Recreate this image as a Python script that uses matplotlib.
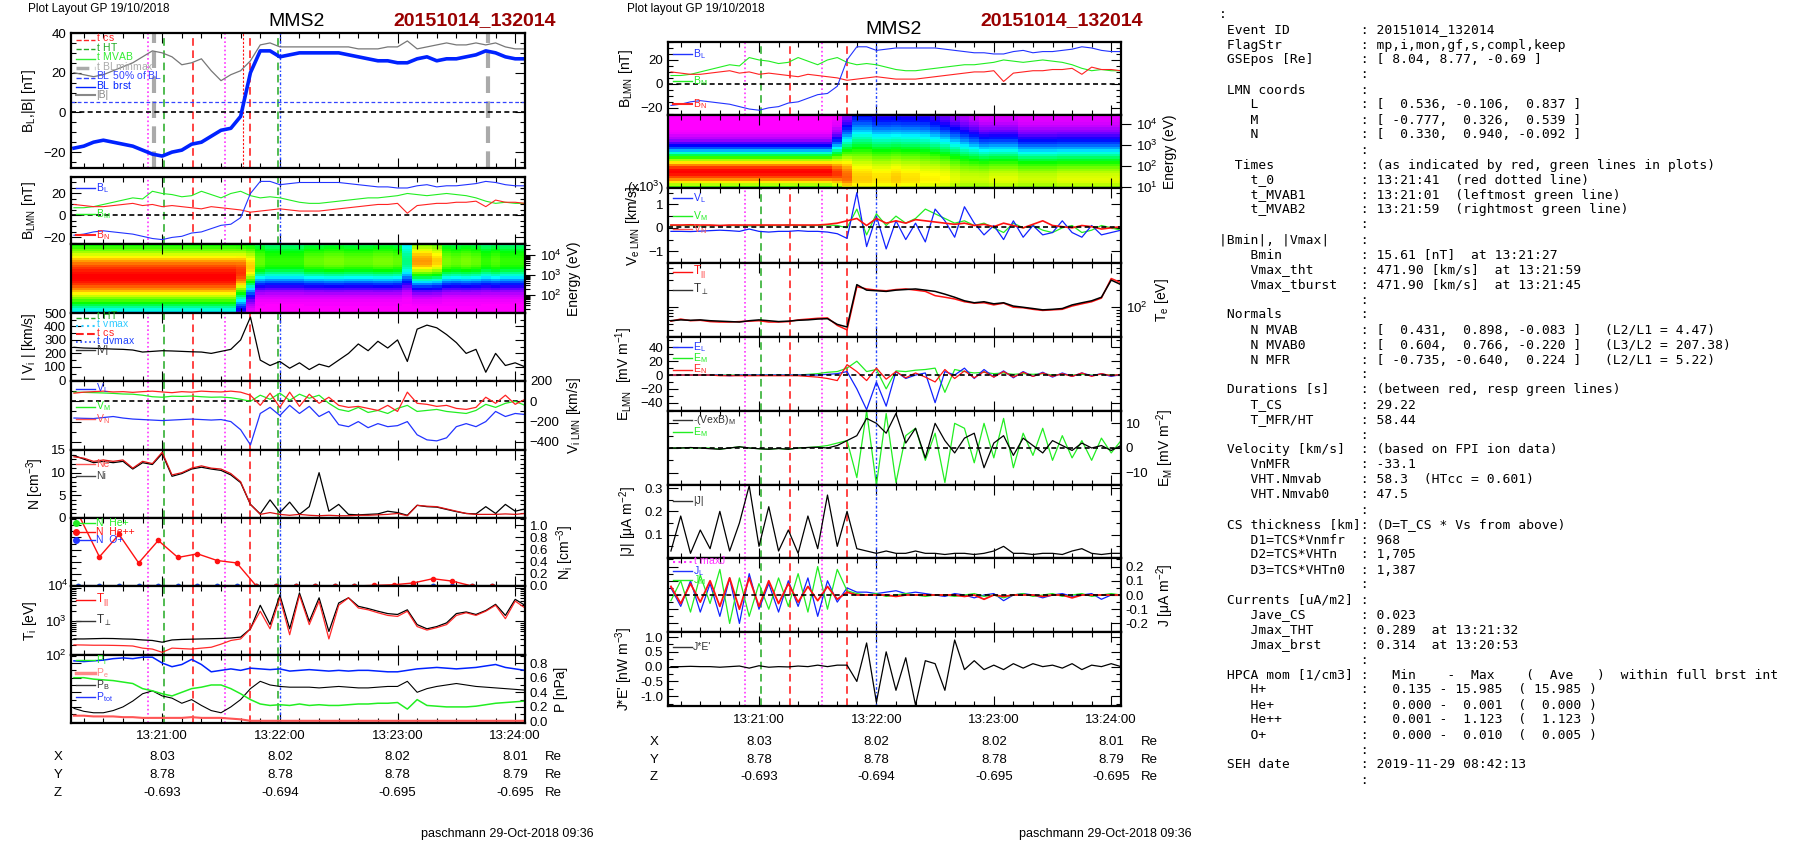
import numpy as np
import matplotlib
matplotlib.use("Agg")
import matplotlib.pyplot as plt
from matplotlib.colors import LinearSegmentedColormap
from matplotlib.ticker import MultipleLocator, NullFormatter, FixedLocator

plt.rcParams['font.family'] = ['Liberation Sans', 'DejaVu Sans']
plt.rcParams['mathtext.fontset'] = 'custom'
plt.rcParams['mathtext.rm'] = 'Liberation Sans'
plt.rcParams['mathtext.it'] = 'Liberation Sans'

W, H = 1804, 841
# ---------------- data (time in s after 13:20:00, 5 s cadence) ----------------
t = np.arange(15, 246, 5)
BL = [-18,-17,-15,-14,-15,-16,-17,-19,-21,-22, -20,-19,-16,-15,-12,-9,-8,-2,20,31,
      31,28,29,30,30,30,30,30,29,28, 27,26,26,25,25,27,28,26,27,27, 28,29,31,30,28,27,27]
Btot = [20,19,18,19,21,23,25,28,31,30, 28,24,25,27,21,16,19,21,26,34,
        35,33,33,33,33,33,33,33,33,32, 32,32,33,33,36,32,33,34,35,34, 34,35,34,35,33,32,32]
BM = [7,7,8,10,12,14,16,15,22,20, 19,17,18,22,19,16,20,22,18,16,
      17,16,14,12,11,11,12,13,14,15, 16,16,17,18,20,19,18,19,20,19, 18,16,13,11,12,11,11]
BN = [10,9,8,8,9,10,11,9,10,8, 9,8,7,6,8,7,6,5,3,4,
      5,6,5,4,4,4,5,6,7,8, 9,10,10,11,2,9,10,11,11,12, 12,13,8,14,12,12,11]
Vi = [245,240,238,235,232,230,225,210,215,220, 218,215,212,210,200,215,230,300,470,150,
      110,140,90,130,80,120,100,150,200,270, 220,290,240,300,140,380,410,390,340,280, 200,230,60,200,110,130,100]
ViL = [-165,-168,-170,-160,-150,-165,-175,-180,-185,-190, -185,-180,-175,-180,-185,-180,-200,-280,-430,-120,
       -60,-140,-40,-120,-50,-150,-100,-230,-250,-200, -260,-220,-250,-240,-200,-330,-380,-390,-360,-250,
       -220,-250,-200,-100,-150,-120,-130]
ViM = [90,88,85,82,78,72,70,60,45,40, 50,48,52,45,40,42,35,20,0,60,
       20,80,10,70,30,60,-20,-80,-100,-60, -110,-90,-120,-70,-40,-100,-90,-80,-100,-110, -120,-90,-30,-60,-20,0,-40]
ViN = [80,90,95,100,92,95,88,95,100,92, 85,95,90,100,95,92,100,90,60,-40,
       80,-60,90,-50,70,-20,40,-40,-60,-50, -70,-90,-40,-100,90,-20,-30,-50,-40,-70, -80,-60,40,-20,60,-30,20]
Ne = [13.5,13.2,12.5,12.8,12.5,12.8,11.0,12.5,12.0,14.5, 9.5,10.0,11.0,11.5,11.0,10.8,9.8,8.0,3.0,0.8,
      1.2,0.8,0.6,0.8,0.6,0.5,0.6,0.5,0.5,0.6, 0.6,0.7,0.8,1.0,0.5,2.8,2.6,2.5,2.0,1.5, 1.0,0.8,0.8,0.8,0.9,0.8,1.0]
Ni = [13.8,13.0,12.2,12.5,12.2,12.5,10.8,12.2,11.8,14.2, 9.2,9.8,10.8,11.2,10.8,10.5,9.5,7.8,3.0,0.9,
      4.0,1.2,3.5,0.8,2.5,10.0,1.5,3.0,0.8,0.7, 0.8,0.9,1.5,1.2,0.6,2.8,2.5,2.4,1.9,1.4, 1.0,0.9,2.5,1.0,3.0,1.5,2.0]
t_hpca = [17,28,38,48,58,68,78,88,98,108,118,128,138,148,158,168,178,188,198,208,218,228]
N_hepp = [1.2,0.48,0.85,0.38,0.75,0.47,0.53,0.42,0.38,0.0,0.0,0.0,0.0,0.0,0.0,0.01,0.02,0.05,0.12,0.08,0.0,0.0]
N_hep = [0.004]*22
N_op = [0.006,0.005,0.004,0.005,0.006,0.004,0.005,0.005,0.004,0.005,0.004,0.005,0.004,0.005,0.004,0.005,0.004,0.005,0.004,0.005,0.004,0.005]
Tpar = [200,198,195,195,193,190,185,160,150,120, 160,155,150,160,170,210,270,300,600,2000,
        600,5000,400,6000,800,4000,300,3000,5000,2500, 2200,1800,1500,1400,2000,700,550,650,800,1500,
        1800,1500,2000,3000,1200,4000,2500]
Tperp = [300,300,305,310,308,300,295,280,270,240, 280,290,295,300,305,310,320,340,600,3000,
         800,6000,600,7000,1000,5000,500,3500,5000,2800, 2400,2000,1700,1600,2200,800,600,700,900,1700,
         1900,1600,2100,3200,1500,4500,3000]
Ptot = [0.83,0.82,0.83,0.84,0.86,0.87,0.86,0.88,0.88,0.80, 0.75,0.78,0.85,0.78,0.68,0.70,0.72,0.70,0.73,0.72,
        0.71,0.72,0.69,0.70,0.71,0.70,0.69,0.70,0.69,0.70, 0.70,0.69,0.68,0.68,0.70,0.72,0.73,0.74,0.73,0.72,
        0.73,0.74,0.76,0.78,0.74,0.72,0.70]
Pi = [0.60,0.60,0.58,0.57,0.56,0.54,0.52,0.45,0.42,0.38, 0.35,0.40,0.45,0.47,0.50,0.50,0.45,0.38,0.30,0.24,
      0.22,0.23,0.22,0.24,0.22,0.23,0.22,0.22,0.23,0.24, 0.24,0.25,0.25,0.26,0.17,0.30,0.22,0.21,0.20,0.20,
      0.20,0.21,0.23,0.25,0.26,0.27,0.28]
Pb = [0.18,0.14,0.12,0.12,0.15,0.20,0.28,0.38,0.42,0.35, 0.32,0.25,0.30,0.22,0.15,0.12,0.20,0.30,0.45,0.55,
      0.50,0.48,0.47,0.47,0.47,0.46,0.47,0.48,0.47,0.46, 0.46,0.47,0.48,0.48,0.55,0.40,0.45,0.48,0.50,0.52,
      0.50,0.48,0.47,0.46,0.45,0.44,0.43]
Pe = [0.08,0.08,0.07,0.07,0.07,0.06,0.06,0.05,0.05,0.05, 0.05,0.05,0.06,0.05,0.05,0.05,0.04,0.03,0.01,0.01,
      0.01,0.01,0.01,0.01,0.01,0.01,0.01,0.01,0.01,0.01, 0.01,0.01,0.01,0.01,0.01,0.01,0.01,0.01,0.01,0.01,
      0.01,0.01,0.01,0.01,0.01,0.01,0.01]
# ion spectrogram: peak log-energy, amplitude, upper/lower widths per time
ion_pk = [2.9]*17 + [3.1,3.4,3.7] + [3.7]*27
ion_amp = [1.0]*17 + [0.95,0.8,0.6, 0.55,0.55,0.55,0.55,0.6,0.6,0.62,0.62,0.6,0.6,
                      0.6,0.62,0.62,0.6,0.4,0.85,0.85,0.8,0.62,0.6, 0.62,0.6,0.55,0.58,0.55,0.55,0.55]
ion_wup = [2.0]*17 + [1.8,1.6,1.5] + [1.5]*27
ion_wdn = [1.6]*17 + [1.3,1.1,1.0] + [1.0]*27
# electron spectrogram
ele_pk = [1.7]*17 + [1.6,1.4,1.3] + [1.3]*27
ele_amp = [1.0]*17 + [0.95,0.9,0.8, 0.8,0.78,0.78,0.8,0.78,0.78,0.76,0.76,0.75,0.72,
                      0.7,0.7,0.7,0.72,0.72,0.72,0.7,0.7,0.7,0.7, 0.72,0.72,0.72,0.72,0.72,0.72,0.72]
ele_wup = [0.9]*17 + [1.2,1.8,2.3] + [2.3,2.2,2.2,2.2,2.2,2.2,2.2,2.1,2.0,1.9, 1.8,1.7,1.6,1.6,1.6,1.6,1.5,1.5,1.5,1.5,
                                      1.5,1.5,1.5,1.5,1.5,1.5,1.5]
ele_wdn = [1.0]*47
# electron moments (middle column)
VeL = [-0.15,-0.15,-0.16,-0.14,-0.12,-0.10,-0.12,-0.15,-0.05,-0.15, -0.18,-0.15,-0.15,-0.12,-0.15,-0.15,-0.18,-0.25,-0.45,1.5,
       -0.8,0.5,-0.9,0.3,-0.5,0.2,-0.6,0.8,0.3,-0.4, 0.9,0.2,-0.3,0.1,-0.5,0.3,-0.4,0.1,-0.3,-0.2, 0.3,-0.2,-0.4,0.1,-0.3,-0.2,-0.1]
VeM = [0.1,0.1,0.1,0.08,0.1,0.1,0.1,0.1,0.08,0.1, 0.1,0.1,0.12,0.1,0.1,0.1,0.12,0.1,0.0,0.8,
       -0.3,0.6,0.1,0.5,0.2,0.4,0.8,0.6,0.4,0.2, 0.3,0.1,0.2,0.0,-0.2,0.2,0.0,0.1,-0.1,-0.2, 0.0,0.1,-0.2,-0.1,0.1,0.0,-0.1]
VeN = [0.12,0.12,0.13,0.12,0.12,0.1,0.12,0.12,0.12,0.12, 0.12,0.12,0.12,0.12,0.12,0.12,0.15,0.2,0.3,0.4,
       0.1,0.4,0.2,0.3,0.2,0.35,0.3,0.25,0.2,0.15, 0.2,0.1,0.15,0.05,0.2,0.1,0.0,0.15,0.3,0.1, 0.05,0.0,0.1,0.05,-0.05,0.0,0.05]
Te_perp = [58,60,59,60,58,57,56,55,58,60, 58,56,57,59,60,62,63,50,45,250,
           200,195,190,200,205,210,200,190,170,150, 130,120,125,115,120,105,100,95,90,92, 95,110,120,130,150,300,250]
Te_par = [57,62,58,59,56,55,55,56,57,58, 55,55,56,60,62,64,65,48,40,230,
          210,200,195,205,210,200,190,160,150,140, 125,118,120,110,118,100,98,92,88,90, 92,105,115,125,145,320,270]
EL = [0,0,0,0,0,0,-1,0,0,0, 0,0,0,0,0,0,1,2,5,-20, -50,-10,-45,5,-5,0,3,-40,5,0,
      10,-5,8,-3,6,-4,5,-2,4,-3, 3,-2,3,-1,2,-2,1]
EMc = [0,0,0,0,0,0,0,0,0,0, 0,0,0,0,1,2,4,5,10,20, 5,8,-20,6,5,7,8,10,-25,8,
       5,3,4,2,3,1,2,1,2,0, 1,0,1,0,1,0,0]
EN = [0,0,0,0,0,-1,-1,-1,-1,-1, -1,-1,-1,-1,-2,-3,-5,-8,15,5, -8,10,-6,5,-4,3,-3,-10,8,-5,
      6,-4,5,-3,5,-3,4,-2,3,-2, 2,-2,3,-2,2,-1,1]
VexB_M = [0,0,0.2,0,-0.3,-0.5,0,0.5,0,-0.3, -0.5,-0.2,-0.5,0,0.2,0.3,0,1,3,5,
          12,10,6,14,2,8,-4,10,3,-2, 4,6,-8,2,5,-3,4,1,-2,3, 1,-1,2,0,1,-1,1]
EM_fast = [0,0,0,0,0,-0.5,0,0.5,0,-0.3, -0.5,-0.2,-0.5,0,0.2,0.5,1,2,3,-12,
           15,-15,14,-14,5,8,-5,6,-14,10, 8,-6,10,-4,12,-8,6,-3,8,-5, 5,-4,3,-5,4,-2,3]
Jmag = [0.03,0.18,0.02,0.12,0.04,0.2,0.03,0.15,0.31,0.05, 0.22,0.03,0.12,0.02,0.18,0.04,0.27,0.05,0.2,0.04,
        0.03,0.02,0.03,0.02,0.02,0.03,0.02,0.02,0.015,0.02, 0.02,0.015,0.02,0.03,0.05,0.02,0.02,0.015,0.02,0.02,
        0.015,0.03,0.04,0.02,0.015,0.02,0.02]
JL = [0.05,-0.08,0.1,-0.12,0.08,-0.15,0.12,-0.2,0.15,-0.1, 0.08,-0.12,0.1,-0.08,0.12,-0.15,0.1,-0.05,0.05,0.02,
      0.02,0.01,0.02,0.03,0.01,0.02,0.01,0.0,-0.01,0.01, 0.0,-0.02,0.0,0.01,-0.04,0.0,0.01,0.0,-0.02,0.0,
      0.01,-0.01,0.0,0.01,-0.03,0.0,0.0]
JM = [-0.04,0.1,-0.12,0.14,-0.06,0.18,-0.2,0.12,-0.15,0.08, -0.1,0.12,-0.08,0.15,-0.12,0.2,-0.1,0.18,0.03,0.01,
      0.0,0.01,-0.01,0.0,0.01,0.0,-0.01,0.0,0.0,-0.01, 0.0,0.01,-0.01,0.0,-0.02,0.0,0.01,-0.01,0.0,0.01,
      -0.01,0.0,0.01,-0.01,0.0,0.01,0.0]
JN = [0.06,-0.06,0.08,-0.05,0.1,-0.08,0.12,-0.1,0.12,-0.08, 0.1,-0.06,0.08,-0.05,0.06,-0.04,0.06,-0.03,0.02,0.0,
      0.0,0.0,0.0,-0.01,0.0,0.0,0.0,0.0,0.0,0.0, -0.01,0.0,-0.03,0.0,-0.01,0.0,0.0,0.0,-0.01,0.0,
      0.0,-0.02,0.0,0.0,0.0,0.0,0.0]
JE = [0,0,0.01,0,0,-0.02,0,0.02,-0.05,0.03, -0.02,0,-0.01,0.02,0,0.05,0,0.05,0.05,-0.5,
      0.8,-1.2,0.5,-0.8,0.3,-1.3,0.2,0.1,-0.8,0.9, -0.1,0.2,-0.1,0.05,-0.1,0.1,-0.05,0.1,0,0.05,
      -0.05,0.1,-0.1,0.05,0,0.1,0]
# event times (s after 13:20:00)
t_maxJ = [53, 92]
t_mvab = [61, 119]
t_cs = [75.8, 105]
t_0 = 101
t_dvmax = 120
t_blminmax = [56, 226]
# axis labels
time_ticks = [60, 120, 180, 240]
time_labels = ["13:21:00", "13:22:00", "13:23:00", "13:24:00"]
posX = ["8.03", "8.02", "8.02", "8.01"]
posY = ["8.78", "8.78", "8.78", "8.79"]
posZ = ["-0.693", "-0.694", "-0.695", "-0.695"]

T0, T1 = 13.5, 245.0

fig = plt.figure(figsize=(W/100, H/100), dpi=100)

def mkax(l, tp, r, b):
    return fig.add_axes([l/W, 1-b/H, (r-l)/W, (b-tp)/H])

spec_cmap = LinearSegmentedColormap.from_list('spec',
    [(0, '#ff00ff'), (0.12, '#0000ff'), (0.3, '#00ffff'), (0.5, '#00ff00'), (0.75, '#ffff00'), (1.0, '#ff0000')])

def style(ax, right_labels=False):
    ax.set_xlim(T0, T1)
    ax.xaxis.set_major_locator(FixedLocator(time_ticks))
    ax.xaxis.set_minor_locator(MultipleLocator(10))
    ax.tick_params(which='both', direction='in', top=True, right=True, labelbottom=False, labelsize=9.5,
                   width=0.8)
    ax.tick_params(which='major', length=7)
    ax.tick_params(which='minor', length=3.5)
    if right_labels:
        ax.tick_params(labelleft=False, labelright=True)
    for s in ax.spines.values():
        s.set_linewidth(1.6)

def vlines(ax, kind='left', p1=False):
    for x in t_maxJ:
        ax.axvline(x, color='#ff33ff', ls=(0, (1, 1.5)), lw=1.2)
    ax.axvline(t_mvab[0], color='#22aa22', ls=(0, (5, 3)), lw=1.1)
    if kind == 'left':
        ax.axvline(t_mvab[1], color='#22aa22', ls=(0, (5, 3)), lw=1.1)
    for x in t_cs:
        ax.axvline(x, color='#ff1111', ls=(0, (5, 3)), lw=1.1)
    ax.axvline(t_dvmax, color='#2244ff', ls=(0, (2, 1.5, 1, 1.5)), lw=1.0)
    if p1:
        ax.axvline(t_0, color='#ff1111', ls=(0, (2, 1.5)), lw=0.8)
        for x in t_blminmax:
            ax.axvline(x, color='#aaaaaa', ls=(0, (4, 2)), lw=3)

def leg(ax, entries, x0=0.012, fs=7.5):
    for (y, lab, col, ls, lw, mk) in entries:
        ax.plot([x0, x0+0.04], [y, y], transform=ax.transAxes, color=col, ls=ls, lw=lw,
                marker=mk, markevery=[0], ms=4, clip_on=False)
        ax.text(x0+0.043, y, lab, transform=ax.transAxes, color=col, fontsize=fs, va='center')

def spectro(ax, pk, amp, wup, wdn, lo, hi):
    le = np.linspace(lo, hi, 30)
    le_edges = np.linspace(lo, hi, 31)
    pk = np.array(pk)[None, :]; amp = np.array(amp)[None, :]
    wu = np.array(wup)[None, :]; wd = np.array(wdn)[None, :]
    d = le[:, None] - pk
    w = np.where(d > 0, wu, wd)
    Z = amp * np.exp(-(d / w) ** 2)
    te = np.concatenate([t - 2.5, [t[-1] + 2.5]])
    ax.pcolormesh(te, 10 ** le_edges, Z, cmap=spec_cmap, vmin=0, vmax=1, shading='flat')
    ax.set_yscale('log')
    ax.set_ylim(10 ** lo, 10 ** hi)

def time_rows(ax, ys, xlab, relab):
    for tk, lab in zip(time_ticks, time_labels):
        fig.text(ax.transData.transform((tk, 0))[0]/W, 1-ys[0]/H, lab, ha='center', va='center', fontsize=9.5)
    for row, y, vals in zip("XYZ", ys[1:], [posX, posY, posZ]):
        fig.text(xlab/W, 1-y/H, row, ha='left', va='center', fontsize=9.5)
        for tk, v in zip(time_ticks, vals):
            fig.text(ax.transData.transform((tk, 0))[0]/W, 1-y/H, v, ha='center', va='center', fontsize=9.5)
        fig.text(relab/W, 1-y/H, "Re", ha='left', va='center', fontsize=9.5)

def ylab(ax, s, right=False):
    ax.set_ylabel(s, fontsize=10)
    if right:
        ax.yaxis.set_label_position('right')

# =================== LEFT COLUMN ===================
Lx0, Lx1 = 71, 525
ax = mkax(Lx0, 33, Lx1, 168); style(ax)
vlines(ax, p1=True)
ax.axhline(0, color='k', ls=(0, (3, 2)), lw=1.2)
ax.axhline(5, color='#3344ff', ls=(0, (3, 2)), lw=0.9)
ax.plot(t, Btot, color='#777777', lw=0.9)
ax.plot(t, BL, color='#0022ff', lw=2.6)
ax.set_ylim(-28, 40); ax.yaxis.set_major_locator(MultipleLocator(20)); ax.yaxis.set_minor_locator(MultipleLocator(5))
ylab(ax, "B$_L$,|B| [nT]")
leg(ax, [(0.95, "t$_{_ \\ }$cs", '#ff2222', '--', 1, None), (0.88, "t$_{_ \\ }$HT", '#22aa22', '--', 1, None),
         (0.81, "t$_{_ \\ }$MVAB", '#33ee33', '-', 1, None), (0.74, "t$_{_ \\ }$BLminmax", '#aaaaaa', '--', 2.5, None),
         (0.67, "BL$_{_ \\ }$50% of BL", '#3344ff', '--', 1, None), (0.60, "BL$_{_ \\ }$brst", '#0022ff', '-', 1, None),
         (0.54, "|B|", '#888888', '-', 1.5, None)], fs=7.5)

ax = mkax(Lx0, 177, Lx1, 244); style(ax)
vlines(ax)
ax.axhline(0, color='k', ls=(0, (3, 2)), lw=1.2)
ax.plot(t, BM, color='#22ee22', lw=0.8); ax.plot(t, BN, color='#ff2222', lw=0.8); ax.plot(t, BL, color='#2233ff', lw=0.8)
ax.set_ylim(-26, 35); ax.yaxis.set_major_locator(MultipleLocator(20)); ax.yaxis.set_minor_locator(MultipleLocator(5))
ylab(ax, "B$_{LMN}$ [nT]")
leg(ax, [(0.83, "B$_L$", '#2233ff', '-', 1, None), (0.45, "B$_M$", '#22ee22', '-', 1, None), (0.14, "B$_N$", '#ff2222', '-', 1.5, None)])

ax = mkax(Lx0, 244, Lx1, 313); style(ax, right_labels=True)
spectro(ax, ion_pk, ion_amp, ion_wup, ion_wdn, 1.1, 4.55)
ax.set_yticks([1e2, 1e3, 1e4]); ax.yaxis.set_minor_formatter(NullFormatter())
ax.tick_params(axis='y', which='both', direction='out', right=True, left=False)
ylab(ax, "Energy (eV)", right=True)

ax = mkax(Lx0, 313, Lx1, 381); style(ax)
vlines(ax)
ax.plot(t, Vi, color='k', lw=0.9)
ax.set_ylim(-5, 500); ax.yaxis.set_major_locator(MultipleLocator(100)); ax.yaxis.set_minor_locator(MultipleLocator(50))
ylab(ax, "| V$_i$ | [km/s]")
leg(ax, [(0.93, "t$_{_ \\ }$HT", '#22aa22', '--', 1, None), (0.81, "t$_{_ \\ }$vmax", '#33ccff', ':', 1.5, None),
         (0.69, "t$_{_ \\ }$cs", '#ff2222', '--', 1.5, None), (0.57, "t$_{_ \\ }$dvmax", '#2244ff', ':', 1.2, None),
         (0.45, "|V|", '#333333', '-', 1, None)])

ax = mkax(Lx0, 381, Lx1, 450); style(ax, right_labels=True)
vlines(ax)
ax.axhline(0, color='k', ls=(0, (3, 2)), lw=1.2)
ax.plot(t, ViM, color='#22ee22', lw=0.9); ax.plot(t, ViL, color='#2233ff', lw=0.9); ax.plot(t, ViN, color='#ff2222', lw=0.9)
ax.set_ylim(-480, 200); ax.yaxis.set_major_locator(MultipleLocator(200)); ax.yaxis.set_minor_locator(MultipleLocator(100))
ylab(ax, "V$_{i\\ LMN}$ [km/s]", right=True)
leg(ax, [(0.89, "V$_L$", '#2233ff', '-', 1, None), (0.63, "V$_M$", '#22ee22', '-', 1, None), (0.45, "V$_N$", '#ff5555', '-', 1, None)])

ax = mkax(Lx0, 450, Lx1, 518); style(ax)
vlines(ax)
ax.plot(t, Ni, color='k', lw=0.9); ax.plot(t, Ne, color='#dd1111', lw=0.9)
ax.set_ylim(0, 15); ax.yaxis.set_major_locator(MultipleLocator(5)); ax.yaxis.set_minor_locator(MultipleLocator(1))
ylab(ax, "N [cm$^{-3}$]")
leg(ax, [(0.8, "Ne", '#ff5555', '-', 1, None), (0.62, "Ni", '#444444', '-', 1, None)])

ax = mkax(Lx0, 518, Lx1, 586); style(ax, right_labels=True)
vlines(ax)
ax.plot(t_hpca, N_hep, color='#22ee22', lw=1, marker='o', ms=3)
ax.plot(t_hpca, N_op, color='#2233ff', lw=1, marker='o', ms=3)
ax.plot(t_hpca, N_hepp, color='#ff1111', lw=1, marker='o', ms=3)
ax.set_ylim(0, 1.12); ax.yaxis.set_major_locator(MultipleLocator(0.2)); ax.yaxis.set_minor_locator(MultipleLocator(0.1))
ax.yaxis.set_major_formatter(matplotlib.ticker.FormatStrFormatter('%.1f'))
ylab(ax, "N$_i$ [cm$^{-3}$]", right=True)
ax.text(-0.005, 0.0, "10$^4$", transform=ax.transAxes, ha='right', va='center', fontsize=9.5)
leg(ax, [(0.93, "N  He+", '#22ee22', '-', 1, 'o'), (0.80, "N  He++", '#ff1111', '-', 1, 'o'), (0.67, "N  O+", '#2233ff', '-', 1, 'o')])

ax = mkax(Lx0, 586, Lx1, 655); style(ax)
vlines(ax)
ax.plot(t, Tperp, color='k', lw=0.9); ax.plot(t, Tpar, color='#ff1111', lw=0.9, alpha=0.9)
ax.set_yscale('log'); ax.set_ylim(100, 10 ** 4.05); ax.set_xlim(T0, T1)
ax.set_yticks([1e2, 1e3, 1e4]); ax.yaxis.set_minor_formatter(NullFormatter())
ax.set_yticklabels(["10$^2$", "10$^3$", ""])
ylab(ax, "T$_i$ [eV]")
leg(ax, [(0.8, "T$_{||}$", '#ff1111', '-', 1, None), (0.5, "T$_\\perp$", '#333333', '-', 1, None)], fs=8.5)

ax = mkax(Lx0, 655, Lx1, 723); style(ax, right_labels=True)
vlines(ax)
ax.plot(t, Pe, color='#ff5555', lw=1.5); ax.plot(t, Pb, color='k', lw=0.8)
ax.plot(t, Pi, color='#22ee22', lw=1.1); ax.plot(t, Ptot, color='#0022ff', lw=1.1)
ax.set_ylim(-0.02, 0.91); ax.yaxis.set_major_locator(MultipleLocator(0.2)); ax.yaxis.set_minor_locator(MultipleLocator(0.1))
ax.yaxis.set_major_formatter(matplotlib.ticker.FormatStrFormatter('%.1f'))
ylab(ax, "P [nPa]", right=True)
leg(ax, [(0.93, "P$_i$", '#22ee22', '-', 1, None), (0.74, "P$_e$", '#ff8888', '-', 2.5, None),
         (0.56, "P$_B$", '#333333', '-', 1, None), (0.38, "P$_{tot}$", '#2233ff', '-', 1, None)])
time_rows(ax, [736, 757, 775, 793], 54, 545)

fig.text(28/W, 1-9/H, "Plot Layout GP 19/10/2018", fontsize=8.5, va='center')
fig.text(297/W, 1-21/H, "MMS2", fontsize=14, ha='center', va='center')
fig.text(475/W, 1-21/H, "20151014_132014", fontsize=14, ha='center', va='center', color='#990000', weight='bold')
fig.text(507/W, 1-834/H, "paschmann 29-Oct-2018 09:36", fontsize=9, ha='center', va='center')

# =================== MIDDLE COLUMN ===================
Mx0, Mx1 = 668, 1121
ax = mkax(Mx0, 42, Mx1, 115); style(ax)
vlines(ax, 'mid')
ax.axhline(0, color='k', ls=(0, (3, 2)), lw=1.2)
ax.plot(t, BM, color='#22ee22', lw=0.8); ax.plot(t, BN, color='#ff2222', lw=0.8); ax.plot(t, BL, color='#2233ff', lw=0.8)
ax.set_ylim(-26, 35); ax.yaxis.set_major_locator(MultipleLocator(20)); ax.yaxis.set_minor_locator(MultipleLocator(5))
ylab(ax, "B$_{LMN}$ [nT]")
leg(ax, [(0.83, "B$_L$", '#2233ff', '-', 1, None), (0.47, "B$_M$", '#22ee22', '-', 1, None), (0.15, "B$_N$", '#ff2222', '-', 1.5, None)])

ax = mkax(Mx0, 115, Mx1, 188); style(ax, right_labels=True)
spectro(ax, ele_pk, ele_amp, ele_wup, ele_wdn, 0.95, 4.45)
ax.set_yticks([1e1, 1e2, 1e3, 1e4]); ax.yaxis.set_minor_formatter(NullFormatter())
ax.tick_params(axis='y', which='both', direction='out', right=True, left=False)
ylab(ax, "Energy (eV)", right=True)

ax = mkax(Mx0, 188, Mx1, 263); style(ax)
vlines(ax, 'mid')
ax.plot(t, VeM, color='#22ee22', lw=0.9); ax.plot(t, VeL, color='#1122ff', lw=0.9); ax.plot(t, VeN, color='#ff1111', lw=1.2)
ax.axhline(0.05, color='k', ls=(0, (3, 2)), lw=1.2)
ax.set_ylim(-1.5, 1.7); ax.yaxis.set_major_locator(MultipleLocator(1)); ax.yaxis.set_minor_locator(MultipleLocator(0.5))
ylab(ax, "V$_{e\\ LMN}$ [km/s]")
ax.text(-0.09, 1.0, "(x10$^3$)", transform=ax.transAxes, fontsize=9.5, va='center')
leg(ax, [(0.87, "V$_L$", '#2233ff', '-', 1, None), (0.63, "V$_M$", '#22ee22', '-', 1, None), (0.45, "V$_N$", '#ff5555', '-', 1, None)])

ax = mkax(Mx0, 263, Mx1, 337); style(ax, right_labels=True)
vlines(ax, 'mid')
ax.plot(t, Te_par, color='#ff1111', lw=1.1); ax.plot(t, Te_perp, color='k', lw=1.1)
ax.set_yscale('log'); ax.set_ylim(30, 600); ax.set_xlim(T0, T1)
ax.set_yticks([1e2]); ax.yaxis.set_minor_formatter(NullFormatter())
ylab(ax, "T$_e$ [eV]", right=True)
leg(ax, [(0.88, "T$_{||}$", '#ff1111', '-', 1, None), (0.64, "T$_\\perp$", '#333333', '-', 1, None)], fs=8.5)

ax = mkax(Mx0, 337, Mx1, 411); style(ax)
vlines(ax, 'mid')
ax.plot(t, EMc, color='#22ee22', lw=0.9); ax.plot(t, EL, color='#1122ff', lw=0.9); ax.plot(t, EN, color='#ff1111', lw=0.9)
ax.axhline(0, color='k', ls=(0, (3, 2)), lw=1.2)
ax.set_ylim(-52, 55); ax.yaxis.set_major_locator(MultipleLocator(20)); ax.yaxis.set_minor_locator(MultipleLocator(10))
ylab(ax, "E$_{LMN}$  [mV m$^{-1}$]")
leg(ax, [(0.87, "E$_L$", '#2233ff', '-', 1, None), (0.72, "E$_M$", '#22ee22', '-', 1, None), (0.56, "E$_N$", '#ff2222', '-', 1, None)])

ax = mkax(Mx0, 411, Mx1, 485); style(ax, right_labels=True)
vlines(ax, 'mid')
ax.plot(t, EM_fast, color='#22ee22', lw=0.9); ax.plot(t, VexB_M, color='k', lw=0.9)
ax.axhline(0, color='k', ls=(0, (3, 2)), lw=1.2)
ax.set_ylim(-15, 15); ax.yaxis.set_major_locator(MultipleLocator(10)); ax.yaxis.set_minor_locator(MultipleLocator(5))
ylab(ax, "E$_M$ [mV m$^{-2}$]", right=True)
leg(ax, [(0.88, "-(VexB)$_M$", '#333333', '-', 1, None), (0.72, "E$_M$", '#22ee22', '-', 1, None)])

ax = mkax(Mx0, 485, Mx1, 558); style(ax)
vlines(ax, 'mid')
ax.plot(t, Jmag, color='k', lw=0.9)
ax.set_ylim(0, 0.313); ax.yaxis.set_minor_locator(MultipleLocator(0.05))
ax.set_yticks([0.1, 0.2, 0.3])
ylab(ax, "|J| [μA m$^{-2}$]")
leg(ax, [(0.78, "|J|", '#333333', '-', 1, None)])

ax = mkax(Mx0, 558, Mx1, 632); style(ax, right_labels=True)
vlines(ax, 'mid')
ax.plot(t, JL, color='#1122ff', lw=0.9); ax.plot(t, JM, color='#22ee22', lw=0.9); ax.plot(t, JN, color='#ff1111', lw=1.3)
ax.axhline(0, color='k', ls=(0, (3, 2)), lw=1.2)
ax.set_ylim(-0.26, 0.26); ax.yaxis.set_major_locator(MultipleLocator(0.1)); ax.yaxis.set_minor_locator(MultipleLocator(0.05))
ax.yaxis.set_major_formatter(matplotlib.ticker.FormatStrFormatter('%.1f'))
ylab(ax, "J [μA m$^{-2}$]", right=True)
leg(ax, [(0.94, "t$_{_ \\ }$maxJ", '#ff33ff', ':', 1.5, None), (0.82, "J$_L$", '#2233ff', '-', 1, None), (0.70, "J$_M$", '#22ee22', '-', 1, None)])

ax = mkax(Mx0, 632, Mx1, 706); style(ax)
vlines(ax, 'mid')
ax.plot(t, JE, color='k', lw=0.9)
ax.set_ylim(-1.33, 1.17); ax.yaxis.set_major_locator(MultipleLocator(0.5)); ax.yaxis.set_minor_locator(MultipleLocator(0.25))
ax.yaxis.set_major_formatter(matplotlib.ticker.FormatStrFormatter('%.1f'))
ylab(ax, "J*E' [nW m$^{-3}$]")
leg(ax, [(0.8, "J*E'", '#333333', '-', 1, None)])
time_rows(ax, [720, 742, 760, 777], 650, 1141)

fig.text(627/W, 1-9/H, "Plot layout GP 19/10/2018", fontsize=8.5, va='center')
fig.text(894/W, 1-29/H, "MMS2", fontsize=14, ha='center', va='center')
fig.text(1062/W, 1-21/H, "20151014_132014", fontsize=14, ha='center', va='center', color='#990000', weight='bold')
fig.text(1105/W, 1-834/H, "paschmann 29-Oct-2018 09:36", fontsize=9, ha='center', va='center')

# =================== RIGHT TEXT BLOCK ===================
info = [
    (None, ":"),
    (" Event ID", "20151014_132014"), (" FlagStr", "mp,i,mon,gf,s,compl,keep"),
    (" GSEpos [Re]", "[ 8.04, 8.77, -0.69 ]"), ("", ""),
    (" LMN coords", ""), ("    L", "[  0.536, -0.106,  0.837 ]"), ("    M", "[ -0.777,  0.326,  0.539 ]"),
    ("    N", "[  0.330,  0.940, -0.092 ]"), ("", ""),
    ("  Times", "(as indicated by red, green lines in plots)"), ("    t_0", "13:21:41  (red dotted line)"),
    ("    t_MVAB1", "13:21:01  (leftmost green line)"), ("    t_MVAB2", "13:21:59  (rightmost green line)"), ("", ""),
    ("|Bmin|, |Vmax|", ""), ("    Bmin", "15.61 [nT]  at 13:21:27"), ("    Vmax_tht", "471.90 [km/s]  at 13:21:59"),
    ("    Vmax_tburst", "471.90 [km/s]  at 13:21:45"), ("", ""),
    (" Normals", ""), ("    N MVAB", "[  0.431,  0.898, -0.083 ]   (L2/L1 = 4.47)"),
    ("    N MVAB0", "[  0.604,  0.766, -0.220 ]   (L3/L2 = 207.38)"),
    ("    N MFR", "[ -0.735, -0.640,  0.224 ]   (L2/L1 = 5.22)"), ("", ""),
    (" Durations [s]", "(between red, resp green lines)"), ("    T_CS", "29.22"), ("    T_MFR/HT", "58.44"), ("", ""),
    (" Velocity [km/s]", "(based on FPI ion data)"), ("    VnMFR", "-33.1"), ("    VHT.Nmvab", "58.3  (HTcc = 0.601)"),
    ("    VHT.Nmvab0", "47.5"), ("", ""),
    (" CS thickness [km]", "(D=T_CS * Vs from above)"), ("    D1=TCS*Vnmfr", "968"), ("    D2=TCS*VHTn", "1,705"),
    ("    D3=TCS*VHTn0", "1,387"), ("", ""),
    (" Currents [uA/m2]", ""), ("    Jave_CS", "0.023"), ("    Jmax_THT", "0.289  at 13:21:32"),
    ("    Jmax_brst", "0.314  at 13:20:53"), ("", ""),
    (" HPCA mom [1/cm3]", "  Min    -  Max    (  Ave   )  within full brst int"),
    ("    H+", "  0.135 - 15.985  ( 15.985 )"), ("    He+", "  0.000 -  0.001  (  0.000 )"),
    ("    He++", "  0.001 -  1.123  (  1.123 )"), ("    O+", "  0.000 -  0.010  (  0.005 )"), ("", ""),
    (" SEH date", "2019-11-29 08:42:13"), ("", ""),
]
for k, (lab, val) in enumerate(info):
    line = val if lab is None else (f"{lab:<18}: {val}" if val else f"{lab:<18}:")
    fig.text(1219/W, 1-(15 + 15*k)/H, line, family='DejaVu Sans Mono', fontsize=9.4, va='center', ha='left')

fig.savefig("out.png", dpi=100)
